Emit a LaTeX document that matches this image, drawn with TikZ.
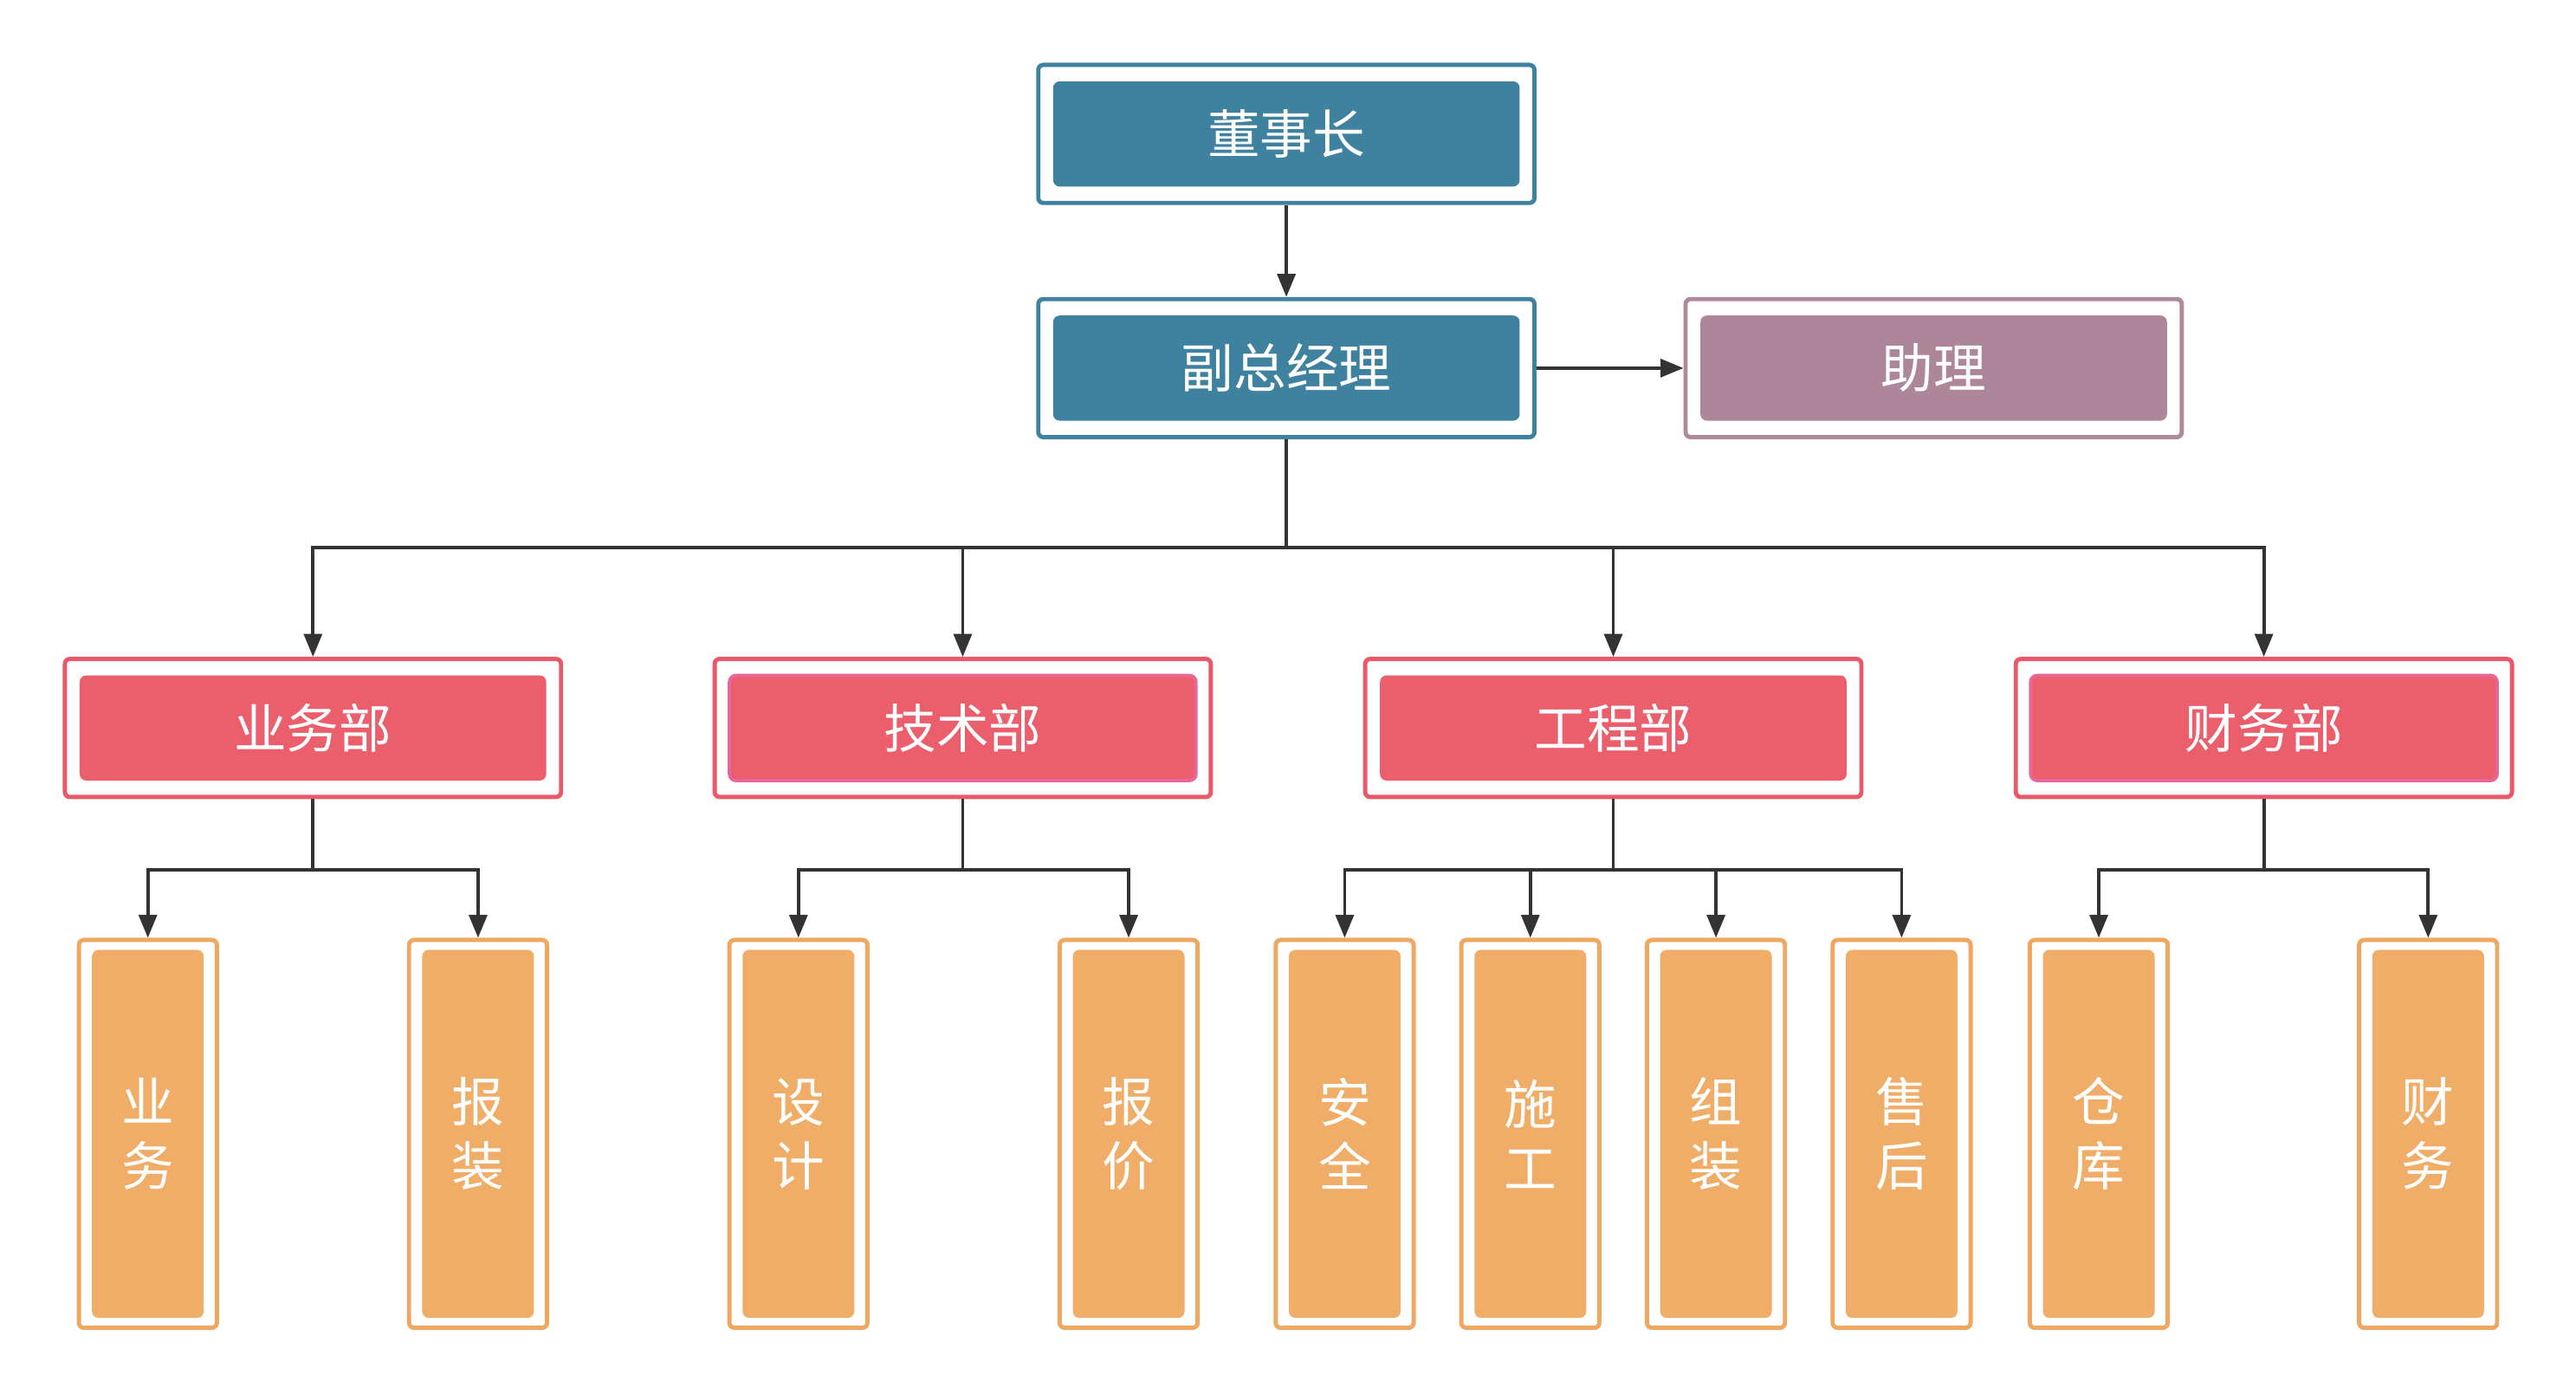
\documentclass[tikz,border=0pt]{standalone}
\usepackage{fontspec}
\setmainfont{Noto Sans CJK SC}
\usetikzlibrary{arrows.meta}
\definecolor{blu}{HTML}{3F82A0}
\definecolor{pur}{HTML}{AD8699}
\definecolor{pbd}{HTML}{B08A9C}
\definecolor{red}{HTML}{EB5E6C}
\definecolor{rbd}{HTML}{E8596A}
\definecolor{pnk}{HTML}{E8679A}
\definecolor{org}{HTML}{F0AD68}
\definecolor{obd}{HTML}{EFA862}
\definecolor{ln}{HTML}{333333}
\begin{document}
\begin{tikzpicture}[x=0.5pt,y=-0.5pt,
  bo/.style={draw,line width=1.3pt,fill=white,rounded corners=1.5pt,minimum width=151pt,minimum height=42pt,inner sep=0pt},
  bi/.style={rounded corners=2pt,minimum width=142pt,minimum height=32pt,inner sep=0pt,text=white,font=\fontsize{16}{19}\selectfont},
  lo/.style={draw=obd,line width=1.3pt,fill=white,rounded corners=1.5pt,minimum width=42pt,minimum height=118pt,inner sep=0pt},
  li/.style={fill=org,rounded corners=2pt,minimum width=34pt,minimum height=112pt,inner sep=0pt,text=white,align=center,font=\fontsize{16}{19.5}\selectfont},
  ar/.style={draw=ln,line width=1pt,-{Triangle[length=7pt,width=5.5pt]}}]
\useasboundingbox (0,0) rectangle (1568,848);
\newcommand\bx[5]{\node[bo,draw=#3] (#1) at #2 {};\node[bi,#4] (#1i) at #2 {#5};}
\newcommand\lf[3]{\node[lo] (#1) at #2 {};\node[li] (#1i) at #2 {#3};}
\bx{dsz}{(783,81.5)}{blu}{fill=blu}{董事长}
\bx{fz}{(783,224)}{blu}{fill=blu}{副总经理}
\bx{zl}{(1177,224)}{pbd}{fill=pur}{助理}
\bx{ywb}{(190.5,443)}{rbd}{fill=red}{业务部}
\bx{jsb}{(586,443)}{rbd}{fill=red,draw=pnk,line width=1pt}{技术部}
\bx{gcb}{(982,443)}{rbd}{fill=red}{工程部}
\bx{cwb}{(1378,443)}{rbd}{fill=red,draw=pnk,line width=1pt}{财务部}
\lf{yw}{(90,690)}{业\\务}
\lf{bz}{(291,690)}{报\\装}
\lf{sj}{(486,690)}{设\\计}
\lf{bj}{(687,690)}{报\\价}
\lf{aq}{(818.5,690)}{安\\全}
\lf{sg}{(931.5,690)}{施\\工}
\lf{zz}{(1044.5,690)}{组\\装}
\lf{sh}{(1157.5,690)}{售\\后}
\lf{ck}{(1277.5,690)}{仓\\库}
\lf{cw}{(1478,690)}{财\\务}
\draw[ar] (dsz.south) -- (fz.north);
\draw[ar] (fz.east) -- (zl.west);
\foreach \d in {ywb,jsb,gcb,cwb}{\draw[ar] (fz.south) -- (783,333) -| (\d.north);}
\foreach \p/\c in {ywb/yw,ywb/bz,jsb/sj,jsb/bj,gcb/aq,gcb/sg,gcb/zz,gcb/sh,cwb/ck,cwb/cw}{\draw[ar] (\p.south) -- ++(0,43) -| (\c.north);}
\end{tikzpicture}
\end{document}
